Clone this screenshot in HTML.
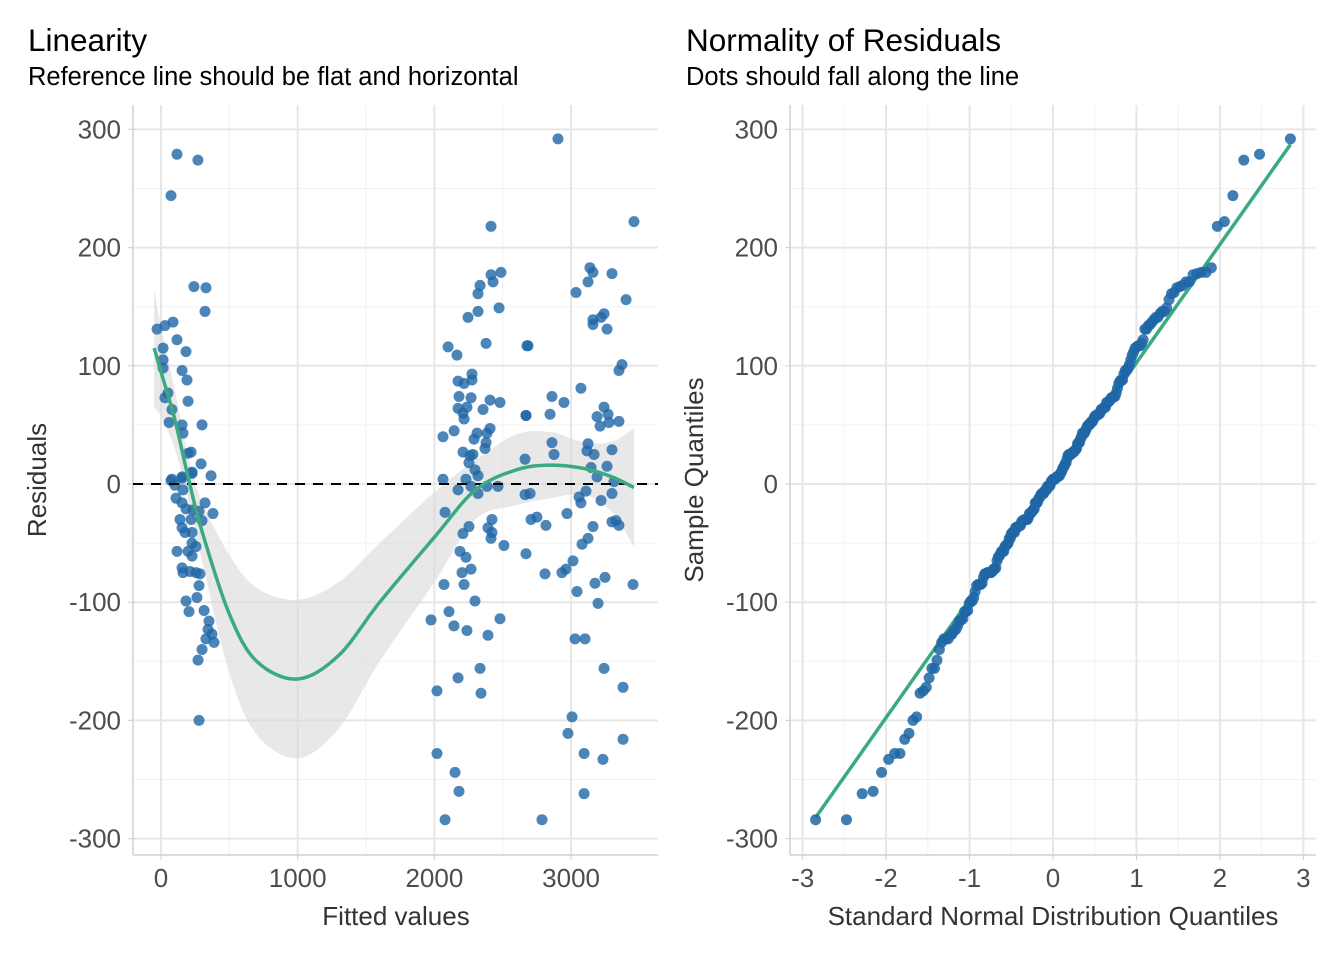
<!DOCTYPE html>
<html><head><meta charset="utf-8"><style>
body{margin:0;background:#fff;}
svg{display:block;font-family:"Liberation Sans",sans-serif;}
</style></head><body>
<svg id="c" width="1344" height="960"></svg>
<script>
const fitted=[117,270,73,241,329,322,-29,29,88,117,183,15,15,154,190,15,198,51,29,80,59,154,300,161,198,220,293,227,366,73,154,
80,154,227,102,161,110,154,183,234,322,380,278,300,139,220,154,176,227,227,256,117,198,227,154,161,212,256,285,278,263,183,205,315,351,344,373,329,388,300,271,278,
2414,2487,2414,2429,2334,2319,2473,2319,2246,2100,2165,2378,2677,2275,2173,2217,2275,2180,2268,2407,2480,2173,2238,2356,2209,2217,2670,2063,2144,2312,2290,2407,2385,2378,2370,2209,2260,2282,2253,2297,2319,2663,2063,2231,2173,2268,2385,2465,2319,2078,2253,2209,2421,2392,2421,
2414,2509,2187,2231,2070,2268,2202,2217,2297,2107,1975,2143,2238,2392,2480,2334,2173,2019,2341,2019,2151,2180,2078,
2904,3460,3138,3160,3299,3124,3036,3402,3160,3160,3241,3219,3263,2685,3372,3350,3072,2860,2948,2670,2846,3241,3190,3270,3212,3277,3350,2860,2875,3124,3116,3168,3299,3146,3263,3190,
2663,2700,3058,3072,3109,3219,3299,3314,2970,2707,2750,2816,3299,3328,3350,3160,3124,3080,2670,3014,2963,2933,2809,3043,3175,3248,3453,3197,3029,3102,3241,3380,3007,2977,3380,3095,3233,3095,2787];
const resid=[279,274,244,167,166,146,131,134,137,122,112,115,105,96,88,98,70,77,73,63,52,50,50,43,26,27,17,10,7,3,5,
4,6,9,-1,-5,-12,-16,-21,-22,-16,-25,-23,-31,-30,-30,-37,-41,-41,-50,-53,-57,-57,-61,-71,-75,-74,-75,-76,-86,-96,-99,-108,-107,-116,-123,-127,-131,-134,-140,-149,-200,
218,179,177,171,168,161,149,146,141,116,109,119,117,93,87,85,88,74,73,71,69,64,65,63,60,55,58,40,45,43,38,47,43,35,30,27,24,25,18,12,7,21,4,4,-5,-2,-2,-2,-8,-24,-36,-42,-30,-37,-41,
-46,-52,-57,-62,-85,-72,-75,-85,-99,-108,-115,-120,-124,-128,-114,-156,-164,-175,-177,-228,-244,-260,-284,
292,222,183,179,178,171,162,156,139,135,144,141,131,117,101,96,81,74,69,58,59,65,57,59,49,52,53,35,25,34,28,25,29,14,15,6,
-9,-8,-11,-16,-6,-14,-8,2,-25,-30,-28,-35,-32,-31,-35,-36,-46,-51,-59,-65,-72,-75,-76,-91,-84,-79,-85,-101,-131,-131,-156,-172,-197,-211,-216,-228,-233,-262,-284];
const smoothX=[-50,0,100,200,300,500,700,1000,1300,1600,2000,2300,2600,2850,3100,3300,3460];
const smoothY=[115,95,55,5,-40,-110,-150,-165,-145,-100,-45,-5,12,16,13,6,-3];
const smoothSE=[50,38,25,18,25,50,62,67,62,50,38,25,30,28,22,30,50];
const yTicks=[-300,-200,-100,0,100,200,300];
const xTicksL=[0,1000,2000,3000];
const xTicksR=[-3,-2,-1,0,1,2,3];

const NS="http://www.w3.org/2000/svg",svg=document.getElementById('c');
function el(t,a,p){const e=document.createElementNS(NS,t);for(const k in a)e.setAttribute(k,a[k]);(p||svg).appendChild(e);return e;}
const pTop=105,pBot=855;
const Y=v=>484-v*1.182;
const XL=v=>161+v*0.1367;
const XR=v=>1053+v*83.45;

function grid(x0,x1,xMaj,xMin,XF){
 [-250,-150,-50,50,150,250].forEach(v=>el('line',{x1:x0,x2:x1,y1:Y(v),y2:Y(v),stroke:'#f2f2f2','stroke-width':1}));
 xMin.forEach(v=>el('line',{x1:XF(v),x2:XF(v),y1:pTop,y2:pBot,stroke:'#f2f2f2','stroke-width':1}));
 yTicks.forEach(v=>el('line',{x1:x0,x2:x1,y1:Y(v),y2:Y(v),stroke:'#e6e6e6','stroke-width':2}));
 xMaj.forEach(v=>el('line',{x1:XF(v),x2:XF(v),y1:pTop,y2:pBot,stroke:'#e6e6e6','stroke-width':2}));
 el('line',{x1:x0,x2:x0,y1:pTop,y2:pBot,stroke:'#d0d0d0','stroke-width':1.5});
 el('line',{x1:x0,x2:x1,y1:pBot,y2:pBot,stroke:'#d0d0d0','stroke-width':1.5});
 yTicks.forEach(v=>{const t=el('text',{x:x0-12,y:Y(v)+9,'text-anchor':'end','font-size':26,fill:'#4d4d4d'});t.textContent=v;
 });
 xMaj.forEach(v=>{el('line',{x1:XF(v),x2:XF(v),y1:pBot,y2:pBot+5,stroke:'#d0d0d0'});const t=el('text',{x:XF(v),y:pBot+32,'text-anchor':'middle','font-size':26,fill:'#4d4d4d'});t.textContent=v;
 });
 yTicks.forEach(v=>el('line',{x1:x0-5,x2:x0,y1:Y(v),y2:Y(v),stroke:'#d0d0d0'}));
}
function txt(x,y,s,size,fill,name,extra){const t=el('text',Object.assign({x:x,y:y,'font-size':size,fill:fill},extra||{}));t.textContent=s;
 return t;}
function smoothSeg(pts,start){let d=start?'M'+pts[0][0]+','+pts[0][1]:'L'+pts[0][0]+','+pts[0][1];for(let i=0;i<pts.length-1;i++){const p0=pts[Math.max(0,i-1)],p1=pts[i],p2=pts[i+1],p3=pts[Math.min(pts.length-1,i+2)];
 d+='C'+(p1[0]+(p2[0]-p0[0])/6)+','+(p1[1]+(p2[1]-p0[1])/6)+' '+(p2[0]-(p3[0]-p1[0])/6)+','+(p2[1]-(p3[1]-p1[1])/6)+' '+p2[0]+','+p2[1];}return d;}

// Left panel
grid(133,658,xTicksL,[500,1500,2500],XL);
const upPts=smoothX.map((x,i)=>[XL(x),Y(smoothY[i]+smoothSE[i])]);
const loPts=smoothX.map((x,i)=>[XL(x),Y(smoothY[i]-smoothSE[i])]).reverse();
const band=el('path',{d:smoothSeg(upPts,true)+smoothSeg(loPts,false)+'Z',fill:'#d9d9d9','fill-opacity':0.6});

fitted.forEach((x,i)=>{const c=el('circle',{cx:XL(x),cy:Y(resid[i]),r:5.5,fill:'#1f66a6','fill-opacity':0.8});
 });
const ref=el('line',{x1:133,x2:658,y1:Y(0),y2:Y(0),stroke:'#000','stroke-width':2,'stroke-dasharray':'10,8'});

const sm=el('path',{d:smoothSeg(smoothX.map((x,i)=>[XL(x),Y(smoothY[i])]),true),fill:'none',stroke:'#3aaa80','stroke-width':3.5});

txt(28,51,'Linearity',31.5,'#000','left-title');
txt(28,85,'Reference line should be flat and horizontal',25.5,'#000','left-subtitle');
txt(396,925,'Fitted values',26,'#333','x-axis-title',{'text-anchor':'middle'});
txt(46,480,'Residuals',26,'#333','y-axis-title',{'text-anchor':'middle',transform:'rotate(-90 46 480)'});

// Right panel
grid(790,1316,xTicksR,[-2.5,-1.5,-0.5,0.5,1.5,2.5],XR);
function qnorm(p){const a=[-39.69683028665376,220.9460984245205,-275.9285104469687,138.357751867269,-30.66479806614716,2.506628277459239],
b=[-54.47609879822406,161.5858368580409,-155.6989798598866,66.80131188771972,-13.28068155288572],
c=[-0.007784894002430293,-0.3223964580411365,-2.400758277161838,-2.549732539343734,4.374664141464968,2.938163982698783],
d=[0.007784695709041462,0.3224671290700398,2.445134137142996,3.754408661907416];
if(p<0.02425){const q=Math.sqrt(-2*Math.log(p));return(((((c[0]*q+c[1])*q+c[2])*q+c[3])*q+c[4])*q+c[5])/((((d[0]*q+d[1])*q+d[2])*q+d[3])*q+1);}
if(p>1-0.02425){const q=Math.sqrt(-2*Math.log(1-p));return-(((((c[0]*q+c[1])*q+c[2])*q+c[3])*q+c[4])*q+c[5])/((((d[0]*q+d[1])*q+d[2])*q+d[3])*q+1);}
const q=p-0.5,r=q*q;return(((((a[0]*r+a[1])*r+a[2])*r+a[3])*r+a[4])*r+a[5])*q/(((((b[0]*r+b[1])*r+b[2])*r+b[3])*r+b[4])*r+1);}
const sorted=resid.slice().sort((a,b)=>a-b),n=sorted.length;
const theo=sorted.map((v,i)=>qnorm((i+0.5)/n));
const q1=sorted[Math.floor(0.25*(n-1))],q3=sorted[Math.floor(0.75*(n-1))];
const slope=(q3-q1)/(qnorm(0.75)-qnorm(0.25)),icpt=q1-slope*qnorm(0.25);
const zmin=theo[0],zmax=theo[n-1];
const ql=el('line',{x1:XR(zmin),y1:Y(icpt+slope*zmin),x2:XR(zmax),y2:Y(icpt+slope*zmax),stroke:'#3aaa80','stroke-width':3.5});

sorted.forEach((v,i)=>{const c=el('circle',{cx:XR(theo[i]),cy:Y(v),r:5.5,fill:'#1f66a6','fill-opacity':0.85});
 });
txt(686,51,'Normality of Residuals',31.5,'#000','right-title');
txt(686,85,'Dots should fall along the line',25.5,'#000','right-subtitle');
txt(1053,925,'Standard Normal Distribution Quantiles',26,'#333','qq-x-axis-title',{'text-anchor':'middle'});
txt(703,480,'Sample Quantiles',26,'#333','qq-y-axis-title',{'text-anchor':'middle',transform:'rotate(-90 703 480)'});
</script>
</body></html>
